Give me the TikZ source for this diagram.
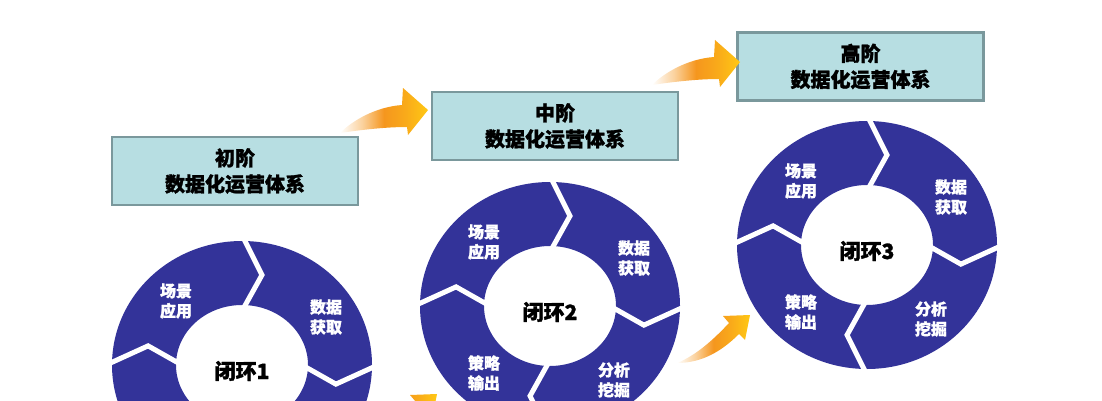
\documentclass[tikz,border=0pt]{standalone}
\usepackage{fontspec}
\setmainfont{Noto Sans CJK SC}[BoldFeatures={FakeBold=1.2}]
\usetikzlibrary{positioning}
\definecolor{lan}{RGB}{51,51,153}
\definecolor{qing}{RGB}{183,222,226}
\definecolor{qingbian}{RGB}{122,152,156}
\definecolor{cheng}{RGB}{245,150,30}
\definecolor{huang}{RGB}{255,200,20}
\pgfdeclarehorizontalshading{jbfade}{100bp}{color(0bp)=(white); color(25bp)=(white);
  color(38bp)=(cheng!45!white); color(50bp)=(cheng); color(62bp)=(cheng!60!huang);
  color(75bp)=(huang); color(100bp)=(huang)}
\tikzset{
  jieduan/.style={draw=qingbian, line width=2.5pt, fill=qing, minimum width=246pt, minimum height=68pt, align=center, inner sep=0pt, font=\fontsize{20}{26}\selectfont\bfseries, execute at begin node={\rule{0pt}{22pt}}},
  duan/.style={text=white, align=center, inner sep=0pt, font=\fontsize{16}{20}\selectfont\bfseries},
  zhong/.style={text=black, inner sep=0pt, font=\fontsize{21}{24}\selectfont\bfseries},
  feng/.style={draw=white, line width=5pt, line join=miter},
  jiantou/.style={shading=jbfade, draw=none},
  huan/.pic={
    \fill[lan, even odd rule] (0,0) ellipse [x radius=130, y radius=124] (0,0) ellipse [x radius=66, y radius=60];
    \foreach \a in {0,90,180,270}
      \draw[feng] (\a:136 and 130) -- ({\a-12}:96 and 92) -- (\a:60 and 54);
    \node[zhong] (-c) at (0,-6) {闭环#1};
    \node[duan] (-a) at (-66,64) {场景\\应用};
    \node[duan] (-b) at (84,48) {数据\\获取};
    \node[duan] (-d) at (64,-74) {分析\\挖掘};
    \node[duan] (-e) at (-66,-67) {策略\\输出};
  },
  dajian/.pic={
    \shade[jiantou] (0,0) .. controls (12,12) and (35,26) .. (62,28) -- (63,45) -- (88,23)
      -- (68,-2) -- (67,6) .. controls (45,6) and (20,3) .. (0,0) -- cycle;
  },
  xiaojian/.pic={
    \shade[jiantou] (0,0) .. controls (20,8) and (38,25) .. (52,40) -- (46,47) -- (73,48)
      -- (68,23) -- (62,29) .. controls (45,12) and (25,0) .. (0,0) -- cycle;
  },
}

\begin{document}
\begin{tikzpicture}[x=1pt,y=1pt]
  \useasboundingbox (0,0) rectangle (1102,400);
  \clip (0,0) rectangle (1102,400);
  % closed loops
  \pic (r1) at (242,35) {huan=1};
  \pic (r2) at (550,94) {huan=2};
  \pic (r3) at (867,155) {huan=3};
  % stage boxes
  \node[jieduan] (s1) at (235,229) {初阶\\数据化运营体系};
  \node[jieduan] (s2) at (555,274) {中阶\\数据化运营体系};
  \node[jieduan] (s3) at (860.5,333.5) {高阶\\数据化运营体系};
  % arrows
  \pic at (340,267) {dajian};
  \pic at (652,315) {dajian};
  \pic at (677,37) {xiaojian};
  \pic at (364,-42) {xiaojian};
\end{tikzpicture}
\end{document}
